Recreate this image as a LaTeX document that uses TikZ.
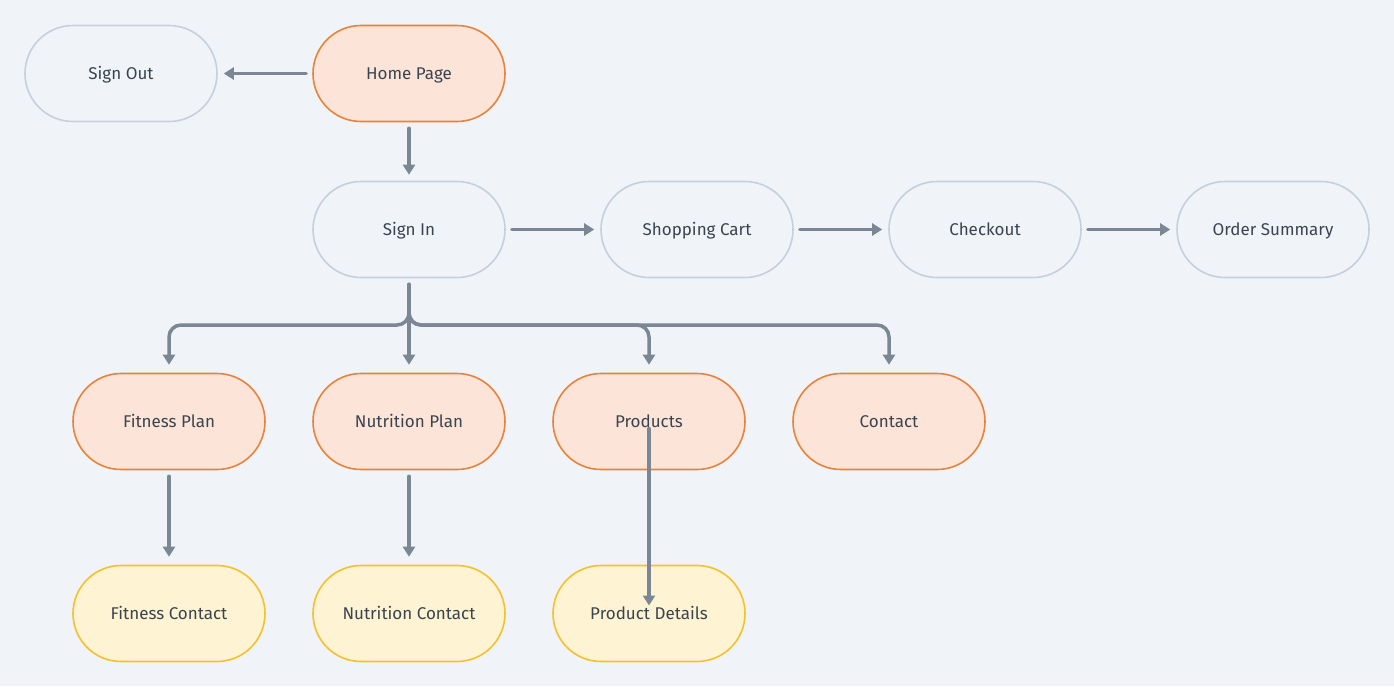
\documentclass[tikz,border=0pt]{standalone}
\usepackage{fontspec}
\setmainfont{Fira Sans}
\usetikzlibrary{arrows.meta,calc}
\definecolor{bg}{HTML}{F0F4F8}
\definecolor{orfill}{HTML}{FCE5D8}
\definecolor{ordraw}{HTML}{E8843A}
\definecolor{yefill}{HTML}{FEF3D2}
\definecolor{yedraw}{HTML}{F5C12E}
\definecolor{grdraw}{HTML}{C5D0DC}
\definecolor{txt}{HTML}{3A4450}
\definecolor{arr}{HTML}{7B8794}
\tikzset{
  pill/.style={rounded corners=48pt, minimum width=192pt, minimum height=96pt, line width=1.6pt, text=txt, font=\fontsize{17pt}{20pt}\selectfont, inner sep=0pt, text height=11.5pt, text depth=0pt},
  orpill/.style={pill, draw=ordraw, fill=orfill},
  yepill/.style={pill, draw=yedraw, fill=yefill},
  grpill/.style={pill, draw=grdraw, fill=bg},
  conn/.style={draw=arr, line width=3.5pt, -{Triangle[length=10pt,width=12pt]}, line cap=round},
}
\begin{document}
\begin{tikzpicture}[x=1pt,y=1pt]
\path[fill=bg] (0,0) rectangle (1394,-686);
\useasboundingbox (0,0) rectangle (1394,-686);
\node[grpill] (so) at (121,-73.5) {Sign Out};
\node[orpill] (hp) at (409,-73.5) {Home Page};
\node[grpill] (si) at (409,-229.5) {Sign In};
\node[grpill] (sc) at (697,-229.5) {Shopping Cart};
\node[grpill] (co) at (985,-229.5) {Checkout};
\node[grpill] (os) at (1273,-229.5) {Order Summary};
\node[orpill] (fp) at (169,-421.5) {Fitness Plan};
\node[orpill] (np) at (409,-421.5) {Nutrition Plan};
\node[orpill] (pr) at (649,-421.5) {Products};
\node[orpill] (ct) at (889,-421.5) {Contact};
\node[yepill] (fc) at (169,-613.5) {Fitness Contact};
\node[yepill] (nc) at (409,-613.5) {Nutrition Contact};
\node[yepill] (pd) at (649,-613.5) {Product Details};
\coordinate (bus) at (409,-325);
\draw[conn] ([xshift=-6pt]hp.west) -- ([xshift=6pt]so.east);
\draw[conn] ([yshift=-6pt]hp.south) -- ([yshift=6pt]si.north);
\draw[conn] ([xshift=6pt]si.east) -- ([xshift=-6pt]sc.west);
\draw[conn] ([xshift=6pt]sc.east) -- ([xshift=-6pt]co.west);
\draw[conn] ([xshift=6pt]co.east) -- ([xshift=-6pt]os.west);
\draw[conn, rounded corners=12pt] ([yshift=-6pt]si.south) -- (bus) -| ([yshift=8pt]fp.north);
\draw[conn] ([yshift=-6pt]si.south) -- ([yshift=8pt]np.north);
\draw[conn, rounded corners=12pt] ([yshift=-6pt]si.south) -- (bus) -| ([yshift=8pt]pr.north);
\draw[conn, rounded corners=12pt] ([yshift=-6pt]si.south) -- (bus) -| ([yshift=8pt]ct.north);
\draw[conn] ([yshift=-6pt]fp.south) -- ([yshift=8pt]fc.north);
\draw[conn] ([yshift=-6pt]np.south) -- ([yshift=8pt]nc.north);
\draw[conn] ([yshift=-7pt]pr.center) -- ([yshift=8pt]pd.center);
\end{tikzpicture}
\end{document}
